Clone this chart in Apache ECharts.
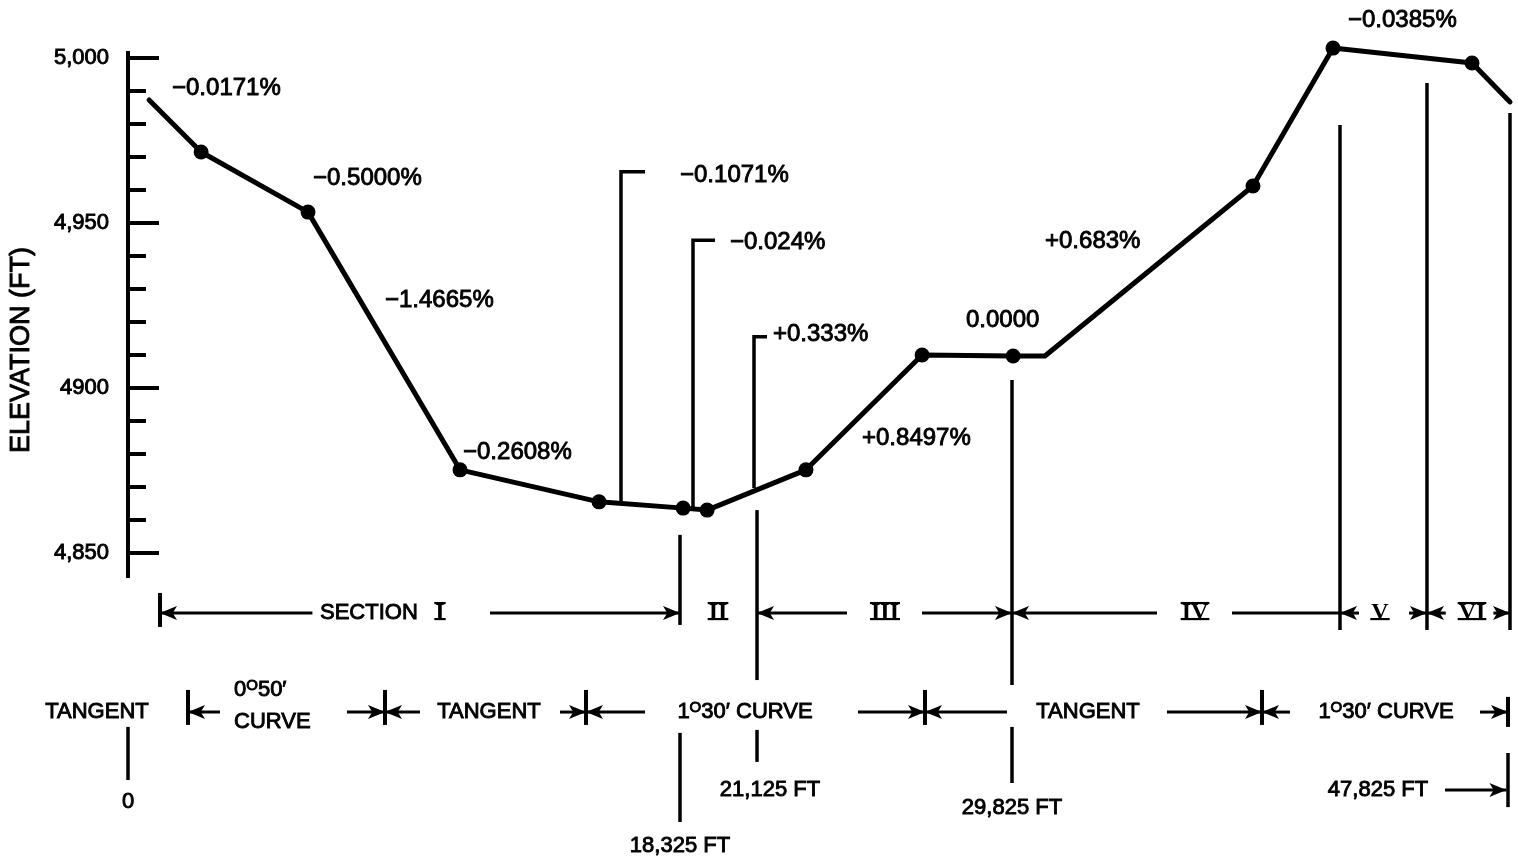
<!DOCTYPE html>
<html>
<head>
<meta charset="utf-8">
<script src="https://cdn.jsdelivr.net/npm/echarts@6/dist/echarts.min.js"></script>
<style>
html,body{margin:0;padding:0;background:#fff;}
#chart{width:1518px;height:862px;}
</style>
</head>
<body>
<div id="chart"></div>
<script>
// ---------------- DATA ----------------
// Profile break points: distance (ft, read off the drawing scale) and elevation (ft)
const profileFt   = [730, 2530, 6230, 11490, 16300, 19210, 20040, 23460, 27480, 30630, 31730, 38930, 41700, 46510, 47825];
const profileElev = [4987.3, 4971.5, 4953.3, 4875.2, 4865.5, 4863.6, 4863.0, 4875.2, 4910.0, 4909.7, 4909.7, 4961.2, 5003.0, 4998.5, 4986.7];
const profileDot  = [false, true, true, true, true, true, true, true, true, true, false, true, true, true, false];

// Grade labels
const gradeText = ['\u22120.0171%', '\u22120.5000%', '\u22121.4665%', '\u22120.2608%', '\u22120.1071%', '\u22120.024%', '+0.333%', '+0.8497%', '0.0000', '+0.683%', '\u22120.0385%'];

// Y axis ticks
const elevMajorTicks = [4850, 4900, 4950, 5000];
const elevMinorTicks = [4860, 4870, 4880, 4890, 4910, 4920, 4930, 4940, 4960, 4970, 4980, 4990];
const elevTickLabels = {4850: '4,850', 4900: '4900', 4950: '4,950', 5000: '5,000'};

// Sections
const sectionWord = 'SECTION';
const sectionNumerals = ['I', 'II', 'III', 'IV', 'V', 'VI'];
// Alignment segments
const alignNames = ['TANGENT', '0{s|O}50\u2032', 'CURVE', 'TANGENT', '1{s|O}30\u2032 CURVE', 'TANGENT', '1{s|O}30\u2032 CURVE'];
// Stations
const stationText = ['0', '18,325 FT', '21,125 FT', '29,825 FT', '47,825 FT'];

// ---------------- LAYOUT (drawing positions / styles) ----------------
const SANS = '"Liberation Sans", Arial, sans-serif';
const F_GRADE = '24px ' + SANS;
const F_LOW = '22px ' + SANS;
const F_NUM = 'bold 24px "Liberation Serif", "Times New Roman", serif';
const TXT_STROKE = 0.9;
const rowSection = 4831.8, rowAlign = 4801.8;

const gradePos = [
  [1523, 4990.9], [6402, 4963.6], [8893, 4926.7], [11593, 4880.6], [19102, 4964.5],
  [20832, 4944.2], [22320, 4916.1], [25400, 4884.8], [28999, 4920.6], [31733, 4944.5], [42218, 5011.5]
];
const sectionWordPos = 6644;
const numeralPos = [10797, 20417, 26196, 36924, 43325, 46509];
const alignPos = [[-1073, rowAlign, 'center'], [3668, 4808.5, 'left'], [3668, 4798.8, 'left'],
                  [12492, rowAlign, 'center'], [21351, rowAlign, 'center'], [33221, rowAlign, 'center'], [43533, rowAlign, 'center']];
const stationPos = [[0, 4774.5], [19102, 4761.2], [22216, 4778.2], [30591, 4772.7], [43256, 4778.2]];

// plain line segments (polylines)
const segs = [
  {p: [[0, 4842.4], [0, 5002.1]], w: 4},                                   // elevation axis spine
  {p: [[17060, 4865.2], [17060, 4965.5], [17891, 4965.5]], w: 3.5},
  {p: [[19552, 4863.5], [19552, 4944.8], [20313, 4944.8]], w: 3.5},
  {p: [[21663, 4869.7], [21663, 4915.5], [22113, 4915.5]], w: 3.5},
  {p: [[19102, 4855.5], [19102, 4828.2]], w: 3.5},
  {p: [[21767, 4863.0], [21767, 4811.5]], w: 3.5},
  {p: [[30591, 4902.4], [30591, 4810.0]], w: 3.5},
  {p: [[41941, 4979.7], [41941, 4826.7]], w: 3.5},
  {p: [[44951, 4992.4], [44951, 4826.7]], w: 3.5},
  {p: [[47824, 4983.3], [47824, 4826.7]], w: 3.5},
  {p: [[1107, 4837.9], [1107, 4827.6]], w: 4},
  // alignment bars
  {p: [[2076, 4808.5], [2076, 4797.9]], w: 4},
  {p: [[8893, 4808.5], [8893, 4797.9]], w: 4},
  {p: [[15849, 4808.5], [15849, 4797.9]], w: 4},
  {p: [[27580, 4808.5], [27580, 4797.9]], w: 4},
  {p: [[39242, 4808.5], [39242, 4797.9]], w: 4},
  {p: [[47755, 4806.4], [47755, 4797.3]], w: 4},
  // station bars
  {p: [[0, 4797.3], [0, 4781.2]], w: 3.5},
  {p: [[19102, 4795.5], [19102, 4768.5]], w: 3.5},
  {p: [[21767, 4796.4], [21767, 4786.7]], w: 3.5},
  {p: [[30591, 4797.3], [30591, 4780.3]], w: 3.5},
  {p: [[47755, 4789.4], [47755, 4773.0]], w: 3.5}
];
// arrows (from -> to, head at "to"; third flag = no head)
const arrows = [
  [[6382, rowSection], [1107, rowSection]],
  [[12527, rowSection], [19102, rowSection]],
  [[24881, rowSection], [21767, rowSection]],
  [[27476, rowSection], [30591, rowSection]],
  [[35608, rowSection], [30591, rowSection]],
  [[38204, rowSection], [41941, rowSection], true],
  [[42600, rowSection], [41941, rowSection]],
  [[44330, rowSection], [44951, rowSection]],
  [[45600, rowSection], [44951, rowSection]],
  [[47250, rowSection], [47824, rowSection]],
  [[3184, rowAlign], [2076, rowAlign]],
  [[7579, rowAlign], [8893, rowAlign]],
  [[10105, rowAlign], [8893, rowAlign]],
  [[14949, rowAlign], [15849, rowAlign]],
  [[17891, rowAlign], [15849, rowAlign]],
  [[25262, rowAlign], [27580, rowAlign]],
  [[30418, rowAlign], [27580, rowAlign]],
  [[35954, rowAlign], [39242, rowAlign]],
  [[40211, rowAlign], [39242, rowAlign]],
  [[46786, rowAlign], [47755, rowAlign]],
  [[45575, 4778.2], [47700, 4778.2]]
];

// collected texts
const texts = [];
gradeText.forEach((t, i) => texts.push({t, x: gradePos[i][0], y: gradePos[i][1], a: 'left', f: F_GRADE}));
texts.push({t: sectionWord, x: sectionWordPos, y: rowSection, a: 'left', f: F_LOW});
sectionNumerals.forEach((t, i) => texts.push({t, x: numeralPos[i], y: rowSection, a: 'center', f: F_NUM, bars: true}));
alignNames.forEach((t, i) => texts.push({t, x: alignPos[i][0], y: alignPos[i][1], a: alignPos[i][2], f: F_LOW}));
stationText.forEach((t, i) => texts.push({t, x: stationPos[i][0], y: stationPos[i][1], a: 'center', f: F_LOW}));

const measureCtx = document.createElement('canvas').getContext('2d');
function textWidth(t, font) { measureCtx.font = font; return measureCtx.measureText(t).width; }

// ---------------- CHART ----------------
const chart = echarts.init(document.getElementById('chart'), null, {renderer: 'canvas'});
const yBase = {
  type: 'value', min: 4756.364, max: 5017.576, position: 'left', offset: -128,
  splitLine: {show: false}, axisLine: {show: false}
};
const option = {
  backgroundColor: '#fff',
  animation: false,
  grid: {left: 0, right: 0, top: 0, bottom: 0, containLabel: false},
  xAxis: {type: 'value', min: -4429.4, max: 48101, show: false},
  yAxis: [
    Object.assign({}, yBase, {
      axisTick: {show: true, inside: true, length: 31, customValues: elevMajorTicks, lineStyle: {color: '#000', width: 4}},
      axisLabel: {show: true, customValues: elevMajorTicks, margin: 19, color: '#000',
                  fontFamily: SANS, fontSize: 22, textBorderColor: '#000', textBorderWidth: TXT_STROKE,
                  formatter: v => elevTickLabels[Math.round(v)] || ''}
    }),
    Object.assign({}, yBase, {
      axisTick: {show: true, inside: true, length: 18, customValues: elevMinorTicks, lineStyle: {color: '#000', width: 4}},
      axisLabel: {show: false}
    })
  ],
  graphic: [{
    type: 'text', x: 22, y: 350, rotation: Math.PI / 2,
    style: {text: 'ELEVATION (FT)', font: '27px ' + SANS, fill: '#000', stroke: '#000', lineWidth: TXT_STROKE,
            align: 'center', verticalAlign: 'middle'}
  }],
  series: [
    {
      type: 'custom', yAxisIndex: 0, z: 2,
      data: segs.map(s => s.p[0]),
      renderItem: (params, api) => {
        const s = segs[params.dataIndex];
        return {type: 'polyline', shape: {points: s.p.map(p => api.coord(p))},
                style: {stroke: '#000', lineWidth: s.w, fill: null}};
      }
    },
    {
      type: 'custom', yAxisIndex: 0, z: 2,
      data: arrows.map(a => a[1]),
      renderItem: (params, api) => {
        const a = arrows[params.dataIndex];
        const p0 = api.coord(a[0]), p1 = api.coord(a[1]);
        const dx = p1[0] - p0[0], dy = p1[1] - p0[1];
        const len = Math.hypot(dx, dy) || 1;
        const ux = dx / len, uy = dy / len, nx = -uy, ny = ux;
        const L = 17, W = 7;
        const children = [{type: 'line', shape: {x1: p0[0], y1: p0[1], x2: p1[0], y2: p1[1]},
                           style: {stroke: '#000', lineWidth: 3}}];
        if (!a[2]) {
          const bx = p1[0] - ux * L, by = p1[1] - uy * L;
          children.push({type: 'polygon', shape: {points: [
            [p1[0], p1[1]], [bx + nx * W, by + ny * W], [p1[0] - ux * L * 0.75, p1[1] - uy * L * 0.75], [bx - nx * W, by - ny * W]
          ]}, style: {fill: '#000'}});
        }
        return {type: 'group', children};
      }
    },
    {
      type: 'line', yAxisIndex: 0, z: 3,
      data: profileFt.map((x, i) => ({value: [x, profileElev[i]], symbolSize: profileDot[i] ? 15 : 0})),
      symbol: 'circle', showSymbol: true,
      lineStyle: {color: '#000', width: 5, cap: 'round', join: 'round'},
      itemStyle: {color: '#000'},
      emphasis: {disabled: true}
    },
    {
      type: 'custom', yAxisIndex: 0, z: 4,
      data: texts.map(t => [t.x, t.y]),
      renderItem: (params, api) => {
        const t = texts[params.dataIndex];
        const p = api.coord([t.x, t.y]);
        const children = [{type: 'text', x: p[0], y: p[1], style: {
          text: t.t, font: t.f, fill: '#000', align: t.a, verticalAlign: 'middle',
          stroke: t.bars ? null : '#000', lineWidth: TXT_STROKE,
          rich: {
            s: {fontSize: 15, fontFamily: SANS, color: '#000', verticalAlign: 'top', lineHeight: 24,
                textBorderWidth: 0, textBorderColor: 'transparent'}
          }
        }}];
        if (t.bars) {
          const w = textWidth(t.t, t.f) + 2;
          const top = p[1] - 10, bot = p[1] + 6;
          if (t.t !== 'V') {
            children.push({type: 'line', shape: {x1: p[0] - w / 2, y1: top, x2: p[0] + w / 2, y2: top}, style: {stroke: '#000', lineWidth: 2.2}});
          }
          children.push({type: 'line', shape: {x1: p[0] - w / 2, y1: bot, x2: p[0] + w / 2, y2: bot}, style: {stroke: '#000', lineWidth: 2.2}});
        }
        return {type: 'group', children};
      }
    }
  ]
};
chart.setOption(option);
</script>
</body>
</html>
